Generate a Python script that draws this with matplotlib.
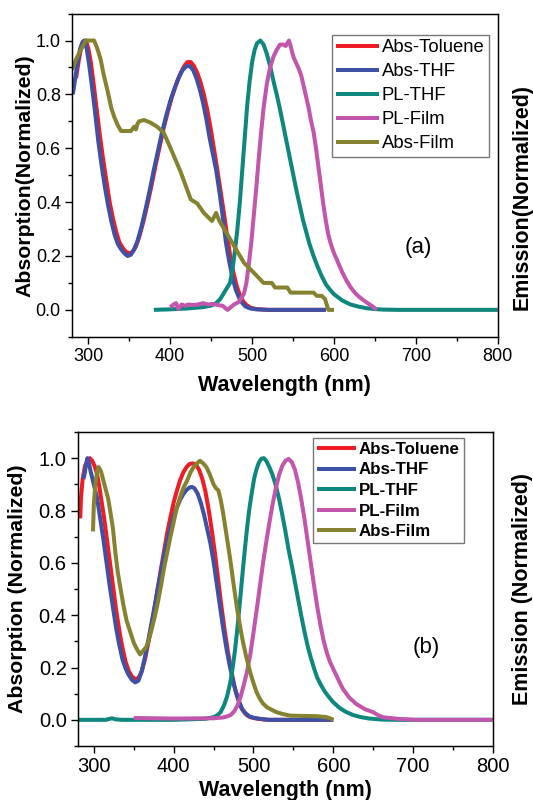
import matplotlib
matplotlib.use("Agg")
import matplotlib.pyplot as plt
from matplotlib.ticker import MultipleLocator

plt.rcParams['font.family'] = ['Liberation Sans', 'DejaVu Sans']

labels = ["Abs-Toluene", "Abs-THF", "PL-THF", "PL-Film", "Abs-Film"]
colors = ["#ee1c25", "#3f51a5", "#0e877f", "#c256ad", "#858330"]

# ---- panel (a) ----
a_tol_x = [285, 288, 291, 294, 297, 300, 303, 306, 310, 314, 318, 322, 326, 330, 334, 338, 342, 346, 350, 354, 358, 362, 367, 372, 377, 382, 387, 392, 397, 402, 407, 412, 417, 421, 425, 429, 433, 437, 441, 445, 449, 453, 457, 461, 465, 469, 473, 477, 481, 485, 489, 493, 498, 505, 520, 590]
a_tol_y = [0.86, 0.92, 0.97, 0.995, 1.0, 0.97, 0.92, 0.85, 0.75, 0.65, 0.56, 0.48, 0.40, 0.34, 0.29, 0.25, 0.23, 0.215, 0.21, 0.215, 0.235, 0.27, 0.325, 0.39, 0.46, 0.535, 0.605, 0.675, 0.735, 0.79, 0.835, 0.875, 0.905, 0.92, 0.92, 0.905, 0.88, 0.845, 0.80, 0.745, 0.68, 0.605, 0.53, 0.45, 0.37, 0.285, 0.205, 0.14, 0.09, 0.055, 0.032, 0.018, 0.008, 0.003, 0.0, 0.0]
a_thf_x = [281, 284, 287, 290, 293, 295, 298, 301, 304, 308, 312, 316, 320, 324, 328, 332, 336, 340, 344, 348, 352, 356, 360, 365, 370, 375, 380, 385, 390, 395, 400, 405, 410, 415, 420, 424, 428, 432, 436, 440, 444, 448, 452, 456, 460, 464, 468, 472, 476, 480, 484, 488, 492, 498, 505, 520, 590]
a_thf_y = [0.80, 0.86, 0.92, 0.97, 0.995, 1.0, 0.97, 0.91, 0.84, 0.74, 0.63, 0.54, 0.46, 0.39, 0.33, 0.28, 0.245, 0.225, 0.21, 0.20, 0.205, 0.225, 0.255, 0.31, 0.375, 0.445, 0.52, 0.59, 0.66, 0.72, 0.775, 0.82, 0.86, 0.89, 0.905, 0.905, 0.89, 0.86, 0.82, 0.77, 0.71, 0.64, 0.58, 0.52, 0.44, 0.35, 0.25, 0.18, 0.12, 0.075, 0.045, 0.025, 0.012, 0.005, 0.002, 0.0, 0.0]
a_plthf_x = [380, 400, 420, 440, 450, 456, 461, 465, 469, 473, 476, 479, 482, 485, 488, 491, 494, 497, 500, 503, 506, 510, 514, 518, 522, 526, 530, 534, 538, 542, 546, 550, 554, 558, 562, 566, 570, 575, 580, 585, 590, 595, 600, 610, 620, 630, 640, 650, 660, 680, 800]
a_plthf_y = [0.0, 0.002, 0.005, 0.01, 0.016, 0.025, 0.04, 0.06, 0.08, 0.10, 0.15, 0.22, 0.30, 0.40, 0.52, 0.64, 0.76, 0.85, 0.92, 0.965, 0.99, 1.0, 0.985, 0.95, 0.905, 0.85, 0.80, 0.745, 0.685, 0.625, 0.565, 0.505, 0.445, 0.39, 0.335, 0.29, 0.245, 0.20, 0.16, 0.125, 0.095, 0.075, 0.058, 0.035, 0.02, 0.012, 0.006, 0.003, 0.001, 0.0, 0.0]
a_plfilm_x = [400, 404, 407, 410, 414, 418, 422, 428, 434, 440, 446, 452, 458, 464, 470, 474, 478, 484, 490, 493, 496, 499, 502, 505, 508, 511, 514, 518, 522, 526, 530, 534, 538, 541, 543, 545, 547, 549, 551, 554, 557, 560, 563, 566, 569, 572, 575, 578, 581, 584, 587, 590, 593, 596, 600, 605, 610, 615, 620, 625, 630, 635, 640, 645, 650, 652]
a_plfilm_y = [0.01, 0.02, 0.025, 0.003, 0.02, 0.015, 0.02, 0.018, 0.02, 0.025, 0.02, 0.022, 0.018, 0.015, 0.0, 0.01, 0.02, 0.03, 0.06, 0.10, 0.17, 0.25, 0.35, 0.45, 0.56, 0.66, 0.75, 0.84, 0.90, 0.94, 0.965, 0.985, 0.985, 0.98, 0.99, 1.0, 0.98, 0.955, 0.935, 0.915, 0.895, 0.87, 0.83, 0.79, 0.75, 0.70, 0.66, 0.60, 0.53, 0.46, 0.39, 0.33, 0.28, 0.245, 0.21, 0.175, 0.14, 0.11, 0.085, 0.065, 0.05, 0.038, 0.027, 0.017, 0.006, 0.0]
a_absfilm_x = [280, 285, 291, 297, 307, 311, 315, 319, 324, 328, 332, 336, 340, 352, 356, 358, 360, 362, 368, 376, 384, 392, 401, 413, 425, 433, 441, 451, 456, 460, 466, 478, 490, 502, 514, 524, 528, 543, 547, 575, 579, 585, 589, 593, 600]
a_absfilm_y = [0.89, 0.93, 0.967, 1.0, 1.0, 0.97, 0.93, 0.87, 0.806, 0.75, 0.713, 0.685, 0.664, 0.664, 0.68, 0.67, 0.69, 0.70, 0.705, 0.695, 0.68, 0.658, 0.596, 0.51, 0.41, 0.395, 0.36, 0.33, 0.36, 0.33, 0.30, 0.237, 0.175, 0.138, 0.10, 0.10, 0.083, 0.083, 0.064, 0.064, 0.052, 0.052, 0.04, 0.0, 0.0]

# ---- panel (b) ----
b_tol_x = [283, 284, 286, 289, 292, 295, 298, 301, 304, 307, 310, 313, 316, 319, 322, 325, 328, 331, 334, 337, 340, 344, 348, 352, 356, 360, 364, 368, 372, 376, 380, 384, 388, 392, 396, 400, 404, 408, 412, 416, 420, 424, 428, 432, 436, 440, 444, 448, 452, 456, 460, 464, 468, 472, 476, 480, 484, 488, 492, 496, 505, 517, 600]
b_tol_y = [0.77, 0.85, 0.92, 0.97, 0.99, 1.0, 0.99, 0.97, 0.94, 0.89, 0.83, 0.77, 0.70, 0.63, 0.56, 0.49, 0.42, 0.36, 0.305, 0.26, 0.22, 0.185, 0.165, 0.155, 0.16, 0.185, 0.23, 0.29, 0.355, 0.425, 0.50, 0.575, 0.645, 0.715, 0.775, 0.83, 0.875, 0.915, 0.945, 0.965, 0.978, 0.98, 0.975, 0.955, 0.92, 0.87, 0.80, 0.72, 0.63, 0.53, 0.43, 0.34, 0.26, 0.19, 0.13, 0.085, 0.05, 0.03, 0.017, 0.01, 0.004, 0.0, 0.0]
b_thf_x = [287, 288.5, 290, 292, 294, 296, 300, 304, 308, 312, 316, 320, 324, 328, 332, 336, 340, 344, 348, 352, 356, 360, 364, 368, 372, 376, 380, 384, 388, 392, 396, 400, 404, 408, 412, 416, 420, 423, 426, 430, 434, 438, 442, 446, 450, 454, 458, 462, 466, 470, 474, 478, 482, 486, 490, 495, 500, 510, 520, 600]
b_thf_y = [0.92, 0.94, 0.97, 1.0, 0.98, 0.95, 0.90, 0.85, 0.77, 0.69, 0.60, 0.51, 0.43, 0.35, 0.285, 0.23, 0.195, 0.17, 0.152, 0.143, 0.15, 0.185, 0.24, 0.30, 0.365, 0.43, 0.50, 0.565, 0.63, 0.685, 0.735, 0.776, 0.81, 0.84, 0.862, 0.878, 0.888, 0.89, 0.885, 0.865, 0.83, 0.785, 0.73, 0.675, 0.605, 0.52, 0.434, 0.35, 0.275, 0.21, 0.155, 0.105, 0.07, 0.04, 0.025, 0.013, 0.008, 0.003, 0.0, 0.0]
b_plthf_x = [280, 315, 320, 323, 327, 335, 400, 440, 450, 455, 459, 463, 467, 471, 474, 477, 480, 483, 486, 489, 492, 495, 498, 501, 504, 507, 510, 513, 516, 520, 524, 528, 532, 536, 540, 544, 548, 552, 556, 560, 564, 568, 572, 576, 580, 585, 590, 595, 600, 608, 616, 625, 635, 645, 660, 680, 800]
b_plthf_y = [0.0, 0.0, 0.004, 0.006, 0.002, 0.0, 0.0, 0.004, 0.01, 0.018, 0.03, 0.055, 0.09, 0.143, 0.20, 0.27, 0.355, 0.45, 0.55, 0.645, 0.735, 0.81, 0.87, 0.925, 0.96, 0.985, 0.998, 1.0, 0.99, 0.965, 0.935, 0.895, 0.845, 0.785, 0.72, 0.65, 0.59, 0.525, 0.46, 0.395, 0.335, 0.28, 0.235, 0.195, 0.16, 0.13, 0.105, 0.085, 0.067, 0.045, 0.03, 0.018, 0.01, 0.005, 0.001, 0.0, 0.0]
b_plfilm_x = [350, 400, 450, 462, 468, 472, 476, 480, 484, 488, 492, 496, 500, 504, 508, 512, 516, 520, 524, 528, 532, 536, 540, 544, 548, 552, 556, 560, 564, 568, 572, 576, 580, 584, 588, 592, 596, 600, 606, 612, 620, 629, 640, 650, 656, 662, 680, 704, 800]
b_plfilm_y = [0.007, 0.005, 0.006, 0.009, 0.014, 0.02, 0.033, 0.055, 0.09, 0.135, 0.185, 0.25, 0.333, 0.42, 0.51, 0.60, 0.68, 0.755, 0.825, 0.885, 0.935, 0.97, 0.99, 0.997, 0.985, 0.955, 0.905, 0.84, 0.765, 0.68, 0.595, 0.51, 0.43, 0.36, 0.30, 0.255, 0.22, 0.194, 0.155, 0.118, 0.085, 0.06, 0.04, 0.029, 0.018, 0.01, 0.004, 0.0, 0.0]
b_absfilm_x = [299, 300, 302, 304, 306, 309, 312, 315, 318, 321, 324, 327, 330, 333, 337, 341, 346, 350, 354, 358, 362, 365, 368, 372, 376, 380, 384, 388, 392, 396, 400, 404, 408, 412, 417, 421, 425, 429, 433, 437, 441, 445, 450, 453, 456, 459, 462, 465, 468, 471, 475, 479, 483, 487, 491, 496, 500, 504, 508, 512, 517, 523, 529, 537, 546, 560, 579, 590, 595, 600]
b_absfilm_y = [0.72, 0.82, 0.90, 0.945, 0.966, 0.95, 0.915, 0.88, 0.845, 0.79, 0.73, 0.64, 0.565, 0.51, 0.44, 0.38, 0.333, 0.295, 0.27, 0.25, 0.265, 0.275, 0.295, 0.34, 0.39, 0.445, 0.51, 0.58, 0.64, 0.70, 0.755, 0.81, 0.85, 0.885, 0.915, 0.945, 0.966, 0.98, 0.99, 0.98, 0.966, 0.94, 0.90, 0.885, 0.877, 0.84, 0.79, 0.73, 0.67, 0.61, 0.52, 0.434, 0.36, 0.295, 0.24, 0.18, 0.14, 0.105, 0.08, 0.062, 0.048, 0.038, 0.029, 0.022, 0.016, 0.015, 0.014, 0.011, 0.007, 0.0]

panels = [
    dict(series=[(a_tol_x, a_tol_y), (a_thf_x, a_thf_y), (a_plthf_x, a_plthf_y), (a_plfilm_x, a_plfilm_y), (a_absfilm_x, a_absfilm_y)],
         rect=[0.135, 0.579, 0.799, 0.404], fs=13, bold_legend=False, leg_fs=13.3, leg_ls=0.38, xpad=7,
         tag="(a)", tag_pos=(703, 0.23), ylabel="Absorption(Normalized)",
         y2label="Emission(Normalized)", y2pos=(1.033, 0.433), ypos=-0.089, leg_anchor=(0.61, 0.935)),
    dict(series=[(b_tol_x, b_tol_y), (b_thf_x, b_thf_y), (b_plthf_x, b_plthf_y), (b_plfilm_x, b_plfilm_y), (b_absfilm_x, b_absfilm_y)],
         rect=[0.146, 0.0675, 0.779, 0.3925], fs=14.5, bold_legend=True, leg_fs=12.2, leg_ls=0.33, xpad=3,
         tag="(b)", tag_pos=(716, 0.276), ylabel="Absorption (Normalized)",
         y2label="Emission (Normalized)", y2pos=(1.046, 0.5), ypos=-0.123, leg_anchor=(0.566, 0.982)),
]

fig = plt.figure(figsize=(5.33, 8), dpi=100)
for p in panels:
    ax = fig.add_axes(p["rect"])
    for (x, y), lab, c in zip(p["series"], labels, colors):
        ax.plot(x, y, color=c, lw=2.9, label=lab, solid_capstyle="butt", solid_joinstyle="round")
    ax.set_xlim(280, 800)
    ax.set_ylim(-0.1, 1.1)
    ax.xaxis.set_major_locator(MultipleLocator(100))
    ax.xaxis.set_minor_locator(MultipleLocator(50))
    ax.yaxis.set_major_locator(MultipleLocator(0.2))
    ax.yaxis.set_minor_locator(MultipleLocator(0.1))
    ax.yaxis.set_major_formatter(plt.FormatStrFormatter("%.1f"))
    ax.tick_params(which="both", direction="out", top=False, right=False, labelsize=p["fs"], width=1, pad=3)
    ax.tick_params(which="major", length=5)
    ax.tick_params(which="minor", length=3)
    for s in ax.spines.values():
        s.set_linewidth(1)
    ax.set_xlabel("Wavelength (nm)", fontsize=15.5, fontweight="bold", labelpad=p["xpad"])
    ax.set_ylabel(p["ylabel"], fontsize=15.3, fontweight="bold")
    ax.yaxis.set_label_coords(p["ypos"], 0.5)
    ax.text(p["tag_pos"][0], p["tag_pos"][1], p["tag"], fontsize=16, ha="center", va="center")
    ax2 = ax.twinx()
    ax2.set_yticks([])
    ax2.set_ylabel(p["y2label"], fontsize=15.5, fontweight="bold")
    ax2.yaxis.set_label_coords(p["y2pos"][0], p["y2pos"][1])
    leg = ax.legend(loc="upper left", bbox_to_anchor=p["leg_anchor"],
                    prop={"weight": "bold" if p["bold_legend"] else "normal", "size": p["leg_fs"]},
                    handlelength=2.3, handletextpad=0.15, labelspacing=p["leg_ls"], borderpad=0.25,
                    borderaxespad=0, fancybox=False, framealpha=1, edgecolor="#777777")
    leg.get_frame().set_linewidth(1)

fig.savefig("out.png", dpi=100)
